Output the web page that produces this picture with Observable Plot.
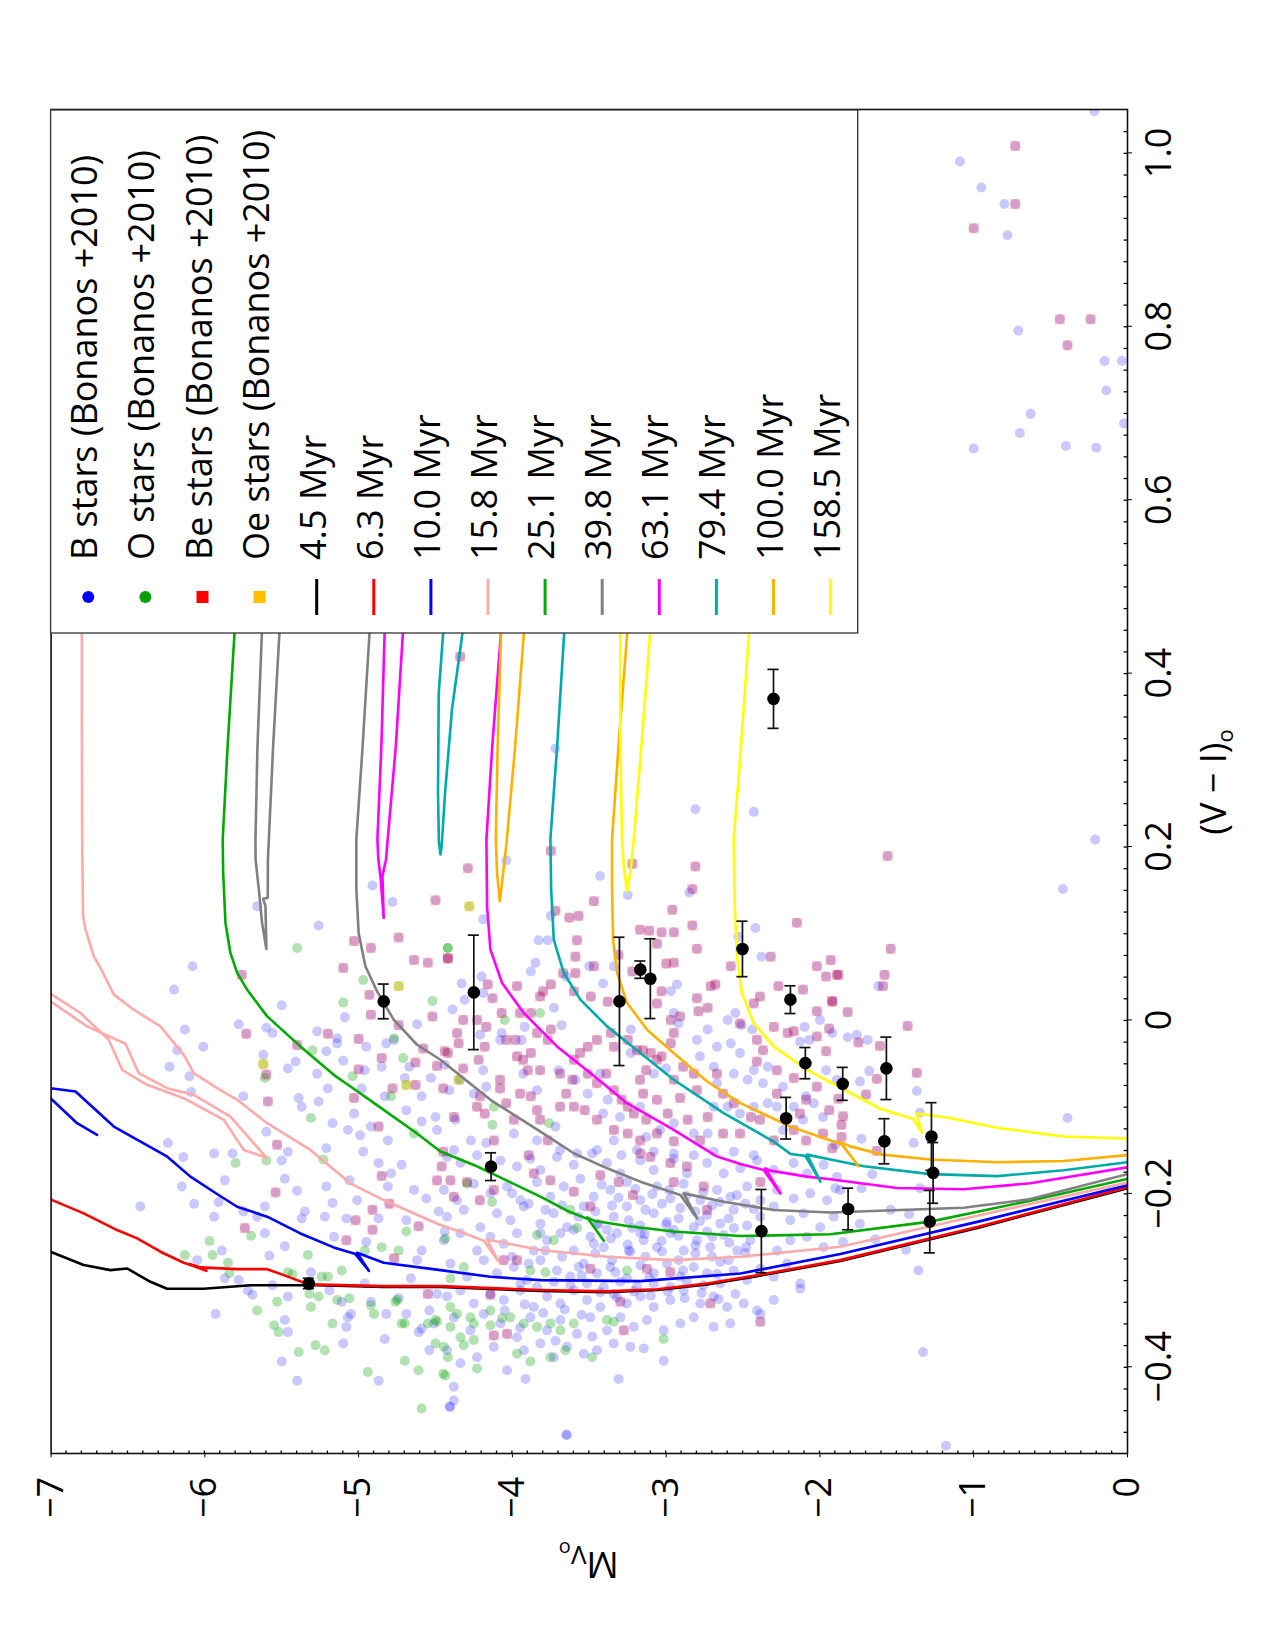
<!DOCTYPE html>
<html>
<head>
<meta charset="utf-8">
<script src="https://cdn.jsdelivr.net/npm/d3@7"></script>
<script src="https://cdn.jsdelivr.net/npm/@observablehq/plot@0.6"></script>
<style>
  html, body { margin: 0; padding: 0; background: #fff; }
  #page { position: relative; width: 1275px; height: 1650px; overflow: hidden; background: #fff; }
  #edge-top { position: absolute; left: 37px; top: 71px; width: 1201px; height: 0; border-top: 1px solid #e6e6e6; }
  #edge-left { position: absolute; left: 37px; top: 71px; width: 0; height: 1509px; border-left: 1px solid #e6e6e6; }
  /* the figure is laid out landscape and turned a quarter turn counter-clockwise */
  #rot { position: absolute; left: 0; top: 0; width: 1650px; height: 1275px;
         transform-origin: 0 0; transform: translate(0px, 1650px) rotate(-90deg); }
  #rot svg { display: block; }
</style>
</head>
<body>
<div id="page"><div id="edge-top"></div><div id="edge-left"></div><div id="rot"></div></div>
<script>
// Colour–magnitude diagram: every point is [Mv, (V−I)o]

// ---- tick values ----
const viTicks = [-0.4, -0.2, 0, 0.2, 0.4, 0.6, 0.8, 1.0];
const mvTicks = [-7, -6, -5, -4, -3, -2, -1, 0];

// ---- B stars (Bonanos+2010), excluding the Be subset ----
const bStars = [
[-4.91,0.155],[-4.78,0.136],[-5.66,0.131],[-5.26,0.109],[-6.08,0.062],[-6.20,0.035],[-5.50,0.017],[-5.09,0.003],[-4.62,-0.005],[-5.78,-0.005],[-5.60,-0.009],[-5.56,-0.015],[-5.27,-0.013],[-5.14,-0.027],[-6.13,-0.011],[-6.01,-0.031],[-6.18,-0.035],[-6.23,-0.054],[-6.10,-0.065],[-5.62,-0.040],[-5.41,-0.048],[-5.46,-0.056],[-5.27,-0.062],[-5.21,-0.036],[-5.10,-0.047],[-4.95,-0.031],[-4.82,-0.027],[-4.85,-0.054],[-4.67,-0.054],[-4.96,-0.058],[-6.09,-0.083],[-5.75,-0.088],[-5.39,-0.090],[-5.37,-0.100],[-5.26,-0.094],[-5.20,-0.079],[-4.98,-0.079],[-4.83,-0.088],[-4.69,-0.104],[-4.59,-0.088],[-4.53,-0.067],[-5.60,-0.129],[-5.17,-0.119],[-5.03,-0.108],[-5.07,-0.127],[-4.92,-0.123],[-4.81,-0.139],[-4.59,-0.117],[-4.50,-0.112],[-4.49,-0.127],[-4.99,-0.133],[-6.24,-0.142],[-6.14,-0.158],[-5.94,-0.154],[-5.82,-0.154],[-5.46,-0.152],[-5.21,-0.148],[-4.97,-0.152],[-4.77,-0.023],[-4.70,-0.067],[-5.14,-0.021],
[-5.50,-0.162],[-6.42,-0.215],[-6.15,-0.192],[-6.07,-0.212],[-5.94,-0.227],[-5.87,-0.185],[-5.91,-0.210],[-5.75,-0.221],[-5.66,-0.227],[-5.61,-0.215],[-5.58,-0.272],[-5.61,-0.246],[-5.48,-0.261],[-5.40,-0.197],[-5.37,-0.229],[-5.35,-0.221],[-5.48,-0.183],[-5.21,-0.192],[-5.17,-0.211],[-5.22,-0.227],[-5.16,-0.250],[-5.08,-0.229],[-5.01,-0.208],[-4.95,-0.256],[-4.87,-0.229],[-4.81,-0.192],[-4.72,-0.167],[-4.69,-0.231],[-4.64,-0.196],[-4.59,-0.266],[-4.56,-0.206],[-4.48,-0.221],[-4.44,-0.244],[-4.87,-0.165],[-4.79,-0.177],[-5.06,-0.185],[-5.89,-0.266],[-6.05,-0.277],[-5.87,-0.298],[-5.78,-0.300],[-5.72,-0.312],[-5.69,-0.317],[-5.93,-0.339],[-5.56,-0.306],[-5.46,-0.319],[-5.48,-0.346],[-5.46,-0.360],[-5.50,-0.394],[-5.40,-0.416],[-5.31,-0.291],[-5.19,-0.312],[-5.11,-0.325],[-5.07,-0.343],[-5.05,-0.339],[-5.10,-0.373],[-5.08,-0.354],[-4.96,-0.304],[-4.92,-0.325],[-4.87,-0.416],[-4.83,-0.368],[-4.82,-0.339],[-4.74,-0.321],[-4.69,-0.339],[-4.66,-0.298],[-4.62,-0.277],[-4.54,-0.335],[-4.49,-0.316],[-4.41,-0.446],[-4.54,-0.381],[-4.51,-0.350],[-4.59,-0.356],[-4.61,-0.360],[-3.65,-0.478],
[-3.43,0.166],[-4.04,0.184],[-4.19,0.116],[-3.83,0.092],[-3.77,0.092],[-3.75,0.120],[-2.85,0.147],[-3.25,0.144],[-2.42,0.106],[-2.53,0.096],[-2.38,0.073],[-3.34,0.062],[-3.50,0.062],[-3.41,0.042],[-3.65,0.050],[-3.85,0.066],[-3.88,0.056],[-4.20,0.050],[-4.19,0.031],[-4.31,0.023],[-4.33,0.042],[-4.39,0.012],[-3.73,0.014],[-3.68,-0.006],[-3.92,-0.008],[-4.07,-0.015],[-4.08,-0.023],[-4.21,-0.017],[-3.94,-0.023],[-4.19,-0.058],[-4.44,-0.052],[-4.34,-0.069],[-4.41,-0.081],[-4.17,-0.077],[-4.25,-0.085],[-4.37,-0.115],[-4.27,-0.139],[-4.38,-0.150],[-4.17,-0.142],[-3.99,-0.131],[-3.84,-0.139],[-3.72,-0.123],[-3.69,-0.150],[-3.93,-0.062],[-3.84,-0.081],[-3.70,-0.058],[-3.59,-0.069],[-3.51,-0.085],[-3.43,-0.062],[-3.38,-0.092],[-3.30,-0.112],[-3.17,-0.100],[-3.34,-0.139],[-3.41,-0.108],[-3.23,-0.011],[-3.23,-0.038],[-3.08,-0.062],[-3.00,-0.056],[-2.95,0.008],[-2.92,-0.004],[-2.97,0.033],[-2.93,0.041],[-2.80,-0.023],[-2.73,-0.011],[-2.78,-0.042],[-2.67,-0.031],[-2.60,0.000],[-2.55,0.008],[-2.51,-0.006],[-2.44,-0.011],[-2.58,-0.027],[-2.52,-0.038],[-2.43,-0.058],[-2.47,-0.069],[-2.56,-0.062],[-2.67,-0.073],[-2.69,-0.054],[-2.34,-0.054],[-2.37,-0.073],[-2.24,-0.077],[-2.28,-0.100],[-2.17,-0.100],[-2.09,-0.088],[-2.04,-0.096],[-1.98,-0.112],[-2.11,-0.115],[-2.24,-0.127],[-2.10,-0.008],[-2.07,-0.023],[-2.13,-0.025],[-2.00,0.000],[-1.92,-0.015],[-1.89,-0.069],[-1.96,-0.058],[-2.34,-0.096],[-2.43,-0.100],[-2.52,-0.108],[-2.60,-0.100],[-2.69,-0.100],[-2.73,-0.131],[-2.82,-0.131],[-2.95,-0.119],[-3.04,-0.127],[-3.13,-0.135],[-3.19,-0.150],[-2.43,-0.156],[-2.56,-0.152],[-2.69,-0.152],[-2.82,-0.156],[-2.95,-0.154],[-3.08,-0.152],[-3.29,-0.156],[-3.45,-0.150],[-3.58,-0.154],
[-4.425,-0.158],[-4.338,-0.165],[-4.230,-0.156],[-4.078,-0.162],[-3.970,-0.169],[-3.883,-0.160],[-3.818,-0.173],[-3.710,-0.158],[-3.601,-0.167],[-3.482,-0.154],[-3.385,-0.165],[-3.298,-0.177],[-3.168,-0.162],[-3.081,-0.173],[-2.951,-0.160],[-2.865,-0.177],[-2.734,-0.165],[-2.626,-0.177],[-2.518,-0.171],[-2.409,-0.162],[-2.301,-0.173],[-2.171,-0.165],[-2.084,-0.177],[-1.976,-0.167],[-1.889,-0.181],
[-4.446,-0.196],[-4.360,-0.208],[-4.251,-0.189],[-4.143,-0.200],[-4.035,-0.192],[-3.948,-0.208],[-3.840,-0.187],[-3.753,-0.204],[-3.666,-0.192],[-3.558,-0.183],[-3.471,-0.204],[-3.363,-0.196],[-3.255,-0.187],[-3.168,-0.208],[-3.060,-0.192],[-2.973,-0.206],[-2.886,-0.189],[-2.778,-0.208],[-2.669,-0.196],[-2.583,-0.204],[-2.474,-0.192],[-2.388,-0.208],[-2.279,-0.196],[-2.171,-0.206],[-2.063,-0.200],[-1.954,-0.208],[-1.868,-0.196],
[-4.425,-0.227],[-4.316,-0.219],[-4.208,-0.239],[-4.100,-0.223],[-4.013,-0.231],[-3.926,-0.215],[-3.818,-0.235],[-3.731,-0.223],[-3.645,-0.239],[-3.536,-0.215],[-3.450,-0.235],[-3.341,-0.227],[-3.255,-0.215],[-3.168,-0.237],[-3.081,-0.223],[-2.995,-0.233],[-2.908,-0.217],[-2.821,-0.239],[-2.734,-0.225],[-2.648,-0.235],[-2.561,-0.219],[-2.474,-0.237],[-2.388,-0.227],[-2.301,-0.215],[-2.193,-0.231],[-2.106,-0.223],[-1.998,-0.239],[-1.911,-0.227],
[-4.446,-0.254],[-4.338,-0.246],[-4.230,-0.266],[-4.143,-0.250],[-4.056,-0.258],[-3.970,-0.246],[-3.861,-0.266],[-3.775,-0.254],[-3.688,-0.246],[-3.601,-0.266],[-3.493,-0.250],[-3.406,-0.262],[-3.320,-0.246],[-3.233,-0.267],[-3.146,-0.254],[-3.060,-0.262],[-2.973,-0.246],[-2.886,-0.266],[-2.800,-0.254],[-2.713,-0.262],[-2.626,-0.248],[-2.539,-0.266],[-2.453,-0.254],[-2.366,-0.246],[-2.279,-0.266],[-2.193,-0.254],[-2.084,-0.250],[-1.976,-0.262],
[-4.403,-0.281],[-4.295,-0.296],[-4.186,-0.277],[-4.100,-0.292],[-3.991,-0.285],[-3.905,-0.300],[-3.818,-0.277],[-3.710,-0.289],[-3.623,-0.296],[-3.536,-0.281],[-3.450,-0.292],[-3.363,-0.285],[-3.255,-0.298],[-3.168,-0.283],[-3.081,-0.292],[-2.995,-0.281],[-2.908,-0.296],[-2.821,-0.285],[-2.734,-0.292],[-2.648,-0.279],[-2.561,-0.289],[-2.474,-0.300],[-2.388,-0.287],[-2.301,-0.296],[-2.214,-0.281],[-2.128,-0.304],
[-4.425,-0.319],[-4.338,-0.312],[-4.251,-0.327],[-4.143,-0.316],[-4.056,-0.323],[-3.948,-0.312],[-3.861,-0.331],[-3.775,-0.319],[-3.688,-0.327],[-3.601,-0.312],[-3.515,-0.323],[-3.428,-0.331],[-3.341,-0.316],[-3.255,-0.327],[-3.168,-0.319],[-3.081,-0.331],[-2.973,-0.323],[-2.886,-0.312],[-2.778,-0.327],[-2.691,-0.319],[-2.604,-0.331],[-2.496,-0.327],[-2.409,-0.335],[-2.301,-0.323],[-2.128,-0.310],
[-4.381,-0.343],[-4.273,-0.358],[-4.186,-0.339],[-4.078,-0.350],[-3.970,-0.366],[-3.883,-0.343],[-3.775,-0.358],[-3.688,-0.346],[-3.580,-0.362],[-3.493,-0.343],[-3.385,-0.358],[-3.298,-0.343],[-3.211,-0.354],[-3.125,-0.346],[-3.016,-0.358],[-2.908,-0.350],[-2.821,-0.343],[-2.691,-0.354],[-2.583,-0.350],[-2.388,-0.339],
[-4.425,-0.381],[-4.338,-0.396],[-4.230,-0.389],[-4.121,-0.377],[-4.035,-0.404],[-3.926,-0.381],[-3.818,-0.373],[-3.731,-0.389],[-3.645,-0.377],[-3.536,-0.385],[-3.450,-0.381],[-3.341,-0.373],[-3.233,-0.377],[-3.146,-0.379],[-3.016,-0.393],[-4.381,-0.423],[-3.915,-0.414],[-3.309,-0.414],[-4.381,-0.439],[-4.403,-0.446],[-3.645,-0.479],
[-4.002,-0.200],[-3.894,-0.212],[-3.785,-0.219],[-3.677,-0.214],[-3.569,-0.227],[-3.460,-0.221],[-3.352,-0.214],[-3.244,-0.231],[-3.135,-0.219],[-3.027,-0.212],[-2.919,-0.229],[-2.810,-0.221],[-2.702,-0.214],[-2.594,-0.229],[-2.485,-0.212],[-4.002,-0.273],[-3.894,-0.281],[-3.785,-0.266],[-3.677,-0.273],[-3.569,-0.285],[-3.460,-0.269],[-3.352,-0.277],[-3.244,-0.266],[-3.135,-0.273],[-3.027,-0.267],[-2.919,-0.277],[-2.810,-0.269],[-2.702,-0.273],[-2.594,-0.277],[-2.485,-0.269],[-3.948,-0.304],[-3.840,-0.308],[-3.731,-0.302],[-3.623,-0.306],[-3.515,-0.304],[-3.406,-0.308],[-3.298,-0.302],[-3.190,-0.308],[-3.081,-0.304],[-2.973,-0.308],[-2.865,-0.302],[-2.756,-0.306],[-2.648,-0.304],[-3.818,-0.246],[-3.601,-0.242],[-3.385,-0.242],[-3.168,-0.246],[-2.951,-0.242],[-2.734,-0.244],
[-3.42,-0.190],[-3.31,-0.205],[-3.20,-0.195],[-3.09,-0.201],[-2.98,-0.196],[-2.87,-0.203],[-2.76,-0.199],[-2.65,-0.210],[-2.54,-0.202],[-2.43,-0.218],
[-3.47,-0.258],[-3.36,-0.252],[-3.25,-0.259],[-3.14,-0.247],[-3.03,-0.255],[-2.92,-0.249],[-2.81,-0.260],[-2.70,-0.250],[-2.59,-0.257],[-2.48,-0.262],
[-3.43,-0.314],[-3.32,-0.320],[-3.21,-0.313],[-3.10,-0.318],[-2.99,-0.313],[-2.88,-0.321],[-2.77,-0.315],[-2.66,-0.322],[-2.55,-0.316],
[-3.44,-0.236],[-3.22,-0.240],[-3.00,-0.236],[-2.78,-0.232],[-2.56,-0.240],[-3.55,-0.295],[-3.33,-0.291],[-3.11,-0.297],[-2.89,-0.289],[-2.67,-0.293],
[-4.05,-0.335],[-3.92,-0.328],[-3.80,-0.338],[-3.66,-0.334],[-3.55,-0.340],[-3.95,-0.355],[-3.72,-0.370],[-3.48,-0.365],
[-0.21,0.208],[-0.42,0.151],[-1.62,0.039],[-1.82,-0.020],[-1.69,-0.023],[-1.76,-0.017],[-1.74,-0.071],[-1.68,-0.059],[-1.37,-0.082],[-1.35,-0.107],[-0.39,-0.113],[-1.39,-0.142],[-1.73,-0.137],[-1.90,-0.144],[-1.66,-0.178],[-1.90,-0.194],[-1.73,-0.194],[-1.54,-0.219],[-1.74,-0.235],[-1.85,-0.256],[-1.44,-0.265],[-1.64,-0.253],[-1.36,-0.289],[-1.33,-0.383],[-1.18,-0.491],[-1.42,-0.224],[-1.35,-0.194],
[-2.81,0.243],[-2.43,0.240],[-3.72,0.313],[-0.215,1.048],[-0.149,0.760],[-0.036,0.760],[-0.138,0.726],[-0.022,0.688],[-0.203,0.660],[-1.09,0.990],[-0.95,0.960],[-0.80,0.941],[-0.78,0.905],[-1.00,0.659],[-0.70,0.677],[-0.63,0.699],[-0.40,0.662],[-0.71,0.795]
];

// ---- Be stars (Bonanos+2010) ----
const beStars = [
[-4.50,0.138],[-4.74,0.095],[-5.03,0.091],[-4.92,0.083],[-5.10,0.060],[-4.64,0.069],[-4.55,0.066],[-4.42,0.071],[-5.76,0.052],[-4.93,0.029],[-4.92,0.006],[-4.52,0.004],[-4.74,-0.006],[-5.73,-0.016],[-5.20,-0.016],[-5.00,-0.022],[-5.40,-0.029],[-4.44,-0.036],[-4.58,-0.033],[-4.85,-0.044],[-4.63,-0.049],[-4.49,-0.053],[-5.00,-0.057],[-5.60,-0.063],[-4.78,-0.079],[-4.63,-0.075],[-5.59,-0.094],[-5.03,-0.090],[-4.87,-0.123],[-5.53,-0.144],[-4.45,-0.152],
[-5.54,-0.199],[-5.74,-0.240],[-5.08,-0.254],[-5.02,-0.231],[-4.91,-0.219],[-4.91,-0.242],[-4.85,-0.180],[-4.80,-0.212],[-4.61,-0.238],[-4.49,-0.185],[-4.46,-0.169],[-4.77,-0.275],[-4.55,-0.316],
[-3.75,0.195],[-4.29,0.175],[-3.22,0.180],[-2.81,0.177],[-2.83,0.151],[-3.47,0.137],[-3.72,0.126],[-3.63,0.118],[-3.57,0.120],[-2.96,0.127],[-2.83,0.109],[-3.11,0.103],[-3.03,0.101],[-2.95,0.101],[-3.58,0.092],[-3.06,0.088],[-2.80,0.082],[-3.59,0.073],[-2.32,0.073],[-4.42,0.071],[-3.67,0.054],[-3.59,0.054],[-3.47,0.062],[-3.00,0.065],[-2.95,0.066],[-3.60,0.033],[-3.80,0.033],[-3.75,0.041],[-3.97,0.039],[-4.13,0.025],[-3.95,0.008],[-3.88,0.008],[-3.82,0.027],[-4.16,0.041],[-3.49,0.027],[-3.38,0.021],[-3.22,0.056],[-3.06,0.019],[-3.03,0.033],[-2.71,0.039],[-2.68,0.041],[-2.80,0.025],[-2.73,0.014],[-2.97,0.000],[-2.91,0.004],[-2.79,0.010],[-2.43,0.019],[-2.39,0.027],[-2.27,0.039],[-2.11,0.035],[-2.02,0.062],[-1.96,0.050],[-1.89,0.052],[-1.92,0.021],[-2.02,0.010],[-1.94,-0.010],[-1.96,-0.036],[-2.17,-0.013],[-2.30,-0.008],[-2.21,-0.015],[-2.41,-0.023],[-2.52,-0.004],[-2.37,-0.035],[-2.28,-0.058],[-2.17,-0.067],[-2.28,-0.085],[-2.41,-0.048],[-2.09,-0.092],[-2.02,-0.077],[-1.94,-0.104],[-2.13,-0.108],[-2.39,-0.115],[-2.30,-0.139],[-2.52,-0.131],[-2.45,-0.112],[-2.56,-0.096],[-2.63,-0.085],[-2.67,-0.062],[-2.80,-0.081],[-2.82,-0.062],[-2.89,-0.054],[-2.95,-0.069],[-2.91,-0.090],[-3.06,-0.092],[-2.99,-0.108],[-2.86,-0.115],[-2.73,-0.112],[-3.13,-0.115],[-3.21,-0.108],[-3.25,-0.100],[-3.29,-0.092],[-3.15,-0.085],[-3.17,-0.069],[-3.13,-0.058],[-3.19,-0.035],[-3.15,-0.035],[-3.10,-0.038],[-3.06,-0.046],[-3.03,-0.042],[-2.97,-0.027],[-2.95,-0.015],[-3.25,-0.023],[-3.34,-0.031],[-3.36,-0.015],[-3.45,-0.023],[-3.51,-0.031],[-3.56,-0.038],[-3.60,-0.046],[-3.69,-0.062],[-3.61,-0.069],[-3.51,-0.062],[-3.45,-0.073],[-3.39,-0.062],[-3.34,-0.081],[-3.82,-0.058],[-3.90,-0.058],[-3.93,-0.046],[-3.97,-0.042],[-3.88,-0.038],[-3.77,-0.023],[-3.75,-0.011],[-3.84,-0.015],[-3.98,-0.023],[-4.08,-0.069],[-4.08,-0.079],[-4.21,-0.088],[-4.23,-0.100],[-4.18,-0.108],[-4.04,-0.096],[-3.95,-0.085],[-3.88,-0.088],[-3.84,-0.104],[-3.99,-0.115],[-3.82,-0.115],[-3.69,-0.100],[-3.65,-0.085],[-3.60,-0.100],[-3.53,-0.104],[-3.45,-0.115],[-3.34,-0.127],[-3.25,-0.131],[-3.17,-0.139],[-3.06,-0.131],[-2.95,-0.140],[-2.78,-0.139],[-2.63,-0.131],[-3.77,-0.139],[-4.12,-0.139],[-4.38,-0.112],[-4.35,-0.027],[-4.32,0.000],[-4.36,-0.015],[-4.42,-0.038],[-4.45,-0.079],[-4.32,-0.056],[-4.22,-0.046],[-4.18,-0.031],[-4.17,-0.008],[-4.23,0.000],[-4.07,0.008],[-4.04,-0.023],[-3.17,0.104],[-3.31,0.075],[-2.58,0.062],[-2.15,0.112],[-2.02,-0.019],[-1.92,-0.148],[-2.09,-0.139],[-2.17,-0.127],[-1.98,-0.131],[-1.93,0.069],
[-3.894,-0.156],[-4.403,-0.185],[-4.295,-0.187],[-4.381,-0.204],[-4.212,-0.208],[-4.121,-0.196],[-3.861,-0.177],[-3.753,-0.185],[-3.601,-0.198],[-3.428,-0.179],[-3.309,-0.187],[-3.216,-0.202],[-3.168,-0.154],[-3.103,-0.158],[-2.973,-0.165],[-2.865,-0.169],[-2.951,-0.187],[-2.756,-0.192],[-2.734,-0.219],[-3.493,-0.215],[-3.970,-0.277],[-4.056,-0.277],[-3.493,-0.287],[-3.125,-0.287],[-2.973,-0.291],[-4.143,-0.317],[-3.298,-0.325],[-2.713,-0.327],[-2.388,-0.348],[-4.121,-0.364],[-4.035,-0.362],[-3.276,-0.358],[-2.388,-0.187],
[-1.56,0.189],[-1.54,0.082],[-1.88,0.052],[-1.58,0.052],[-1.59,0.039],[-1.92,0.022],[-1.82,0.009],[-1.43,-0.007],[-1.75,-0.026],[-1.61,-0.030],[-1.63,-0.068],[-1.70,-0.086],[-1.88,-0.091],[-1.37,-0.061],[-1.85,-0.111],[-1.86,-0.121],[-1.86,-0.135],[-1.63,-0.151],
[-0.73,1.008],[-1.00,0.913],[-0.73,0.941],[-0.24,0.808],[-0.44,0.808],[-0.39,0.778],[-4.34,0.419]
];

// ---- O stars (Bonanos+2010), excluding the Oe subset ----
const oStars = [
[-5.40,0.083],[-4.97,0.046],[-5.10,0.020],[-4.52,0.022],[-4.77,-0.021],[-4.42,0.083],[-5.30,-0.035],[-4.71,-0.044],[-5.04,-0.065],[-5.61,-0.067],[-4.79,-0.088],[-5.31,-0.113],[-4.64,-0.131],
[-5.80,-0.165],[-5.60,-0.162],[-5.23,-0.161],[-5.97,-0.255],[-6.13,-0.271],[-5.95,-0.271],[-5.85,-0.280],[-5.84,-0.292],[-5.70,-0.249],[-5.46,-0.291],[-5.43,-0.293],[-5.33,-0.271],[-5.32,-0.316],[-5.31,-0.331],[-5.26,-0.319],[-5.24,-0.296],[-5.20,-0.296],[-5.14,-0.323],[-5.11,-0.289],[-5.06,-0.321],[-5.66,-0.335],[-5.53,-0.325],[-5.55,-0.352],[-5.52,-0.360],[-5.39,-0.383],[-5.28,-0.375],[-5.22,-0.381],[-5.17,-0.350],[-4.94,-0.406],[-4.92,-0.329],[-4.90,-0.339],[-4.70,-0.393],[-4.61,-0.404],[-4.59,-0.448],[-4.50,-0.373],[-4.49,-0.348],[-4.45,-0.408],[-4.42,-0.389],[-4.75,-0.323],[-4.72,-0.350],[-4.70,-0.350],[-4.96,-0.266],[-4.85,-0.262],[-4.74,-0.266],[-4.69,-0.244],[-4.76,-0.325],[-4.55,-0.350],[-4.50,-0.346],
[-4.42,0.083],[-3.82,0.008],[-4.05,0.000],[-4.13,-0.121],[-3.76,-0.119],[-4.12,-0.100],
[-4.436,-0.252],[-4.295,-0.189],[-4.132,-0.210],[-3.623,-0.219],[-3.580,-0.240],[-3.840,-0.248],[-3.731,-0.254],[-4.316,-0.285],[-4.403,-0.298],[-3.883,-0.289],[-3.785,-0.291],[-3.255,-0.289],[-4.403,-0.331],[-4.360,-0.339],[-4.273,-0.343],[-4.251,-0.350],[-4.143,-0.335],[-4.067,-0.344],[-4.013,-0.343],[-4.143,-0.352],[-3.926,-0.350],[-3.840,-0.354],[-3.753,-0.350],[-3.688,-0.358],[-3.601,-0.350],[-4.403,-0.354],[-4.338,-0.366],[-4.316,-0.375],[-4.251,-0.369],[-3.970,-0.385],[-3.883,-0.394],[-3.753,-0.389],[-3.656,-0.381],[-3.482,-0.389],[-3.385,-0.346],[-3.341,-0.348],[-3.016,-0.368],[-4.436,-0.410],[-4.230,-0.402],[-4.446,-0.377]
];

// ---- Oe stars (Bonanos+2010) ----
const oeStars = [[-4.74,0.039],[-5.62,-0.051],[-4.69,-0.075],[-4.28,0.131],[-4.35,-0.069]];

// ---- cluster members with photometric errors: [Mv, (V−I)o, σ(V−I)] ----
const members = [
[-4.837,0.0214,0.020],[-4.251,0.0318,0.066],[-3.304,0.0214,0.074],[-3.168,0.0580,0.010],[-3.103,0.0476,0.046],
[-2.504,0.0819,0.032],[-2.192,0.0234,0.016],[-2.095,-0.0498,0.018],[-2.220,-0.1133,0.024],[-1.852,-0.0737,0.019],
[-4.139,-0.1692,0.016],[-2.381,-0.2435,0.048],[-1.568,-0.0558,0.036],[-1.581,-0.1399,0.026],[-1.275,-0.1344,0.039],
[-1.264,-0.1764,0.035],[-1.286,-0.2326,0.036],[-1.817,-0.2180,0.024],[-5.324,-0.3039,0.006],[-2.302,0.3703,0.034]
];

// ---- isochrones ----
const iso4p5 = [[0.00,-0.194],[-0.957,-0.239],[-1.867,-0.278],[-2.409,-0.2955],[-2.734,-0.305],[-3.059,-0.3115],[-3.384,-0.314],[-3.818,-0.3125],[-4.468,-0.308],[-4.837,-0.308],[-5.270,-0.306],[-5.704,-0.306],[-6.007,-0.310],[-6.246,-0.310],[-6.354,-0.302],[-6.506,-0.2866],[-6.614,-0.2885],[-6.788,-0.2827],[-7.004,-0.2673],[-7.10,-0.262]];
const iso6p3 = [[0.00,-0.193],[-0.957,-0.238],[-1.867,-0.277],[-2.409,-0.2945],[-2.734,-0.304],[-3.059,-0.3105],[-3.384,-0.313],[-3.818,-0.3115],[-4.468,-0.307],[-4.837,-0.307],[-5.324,-0.305],[-5.487,-0.2943],[-5.595,-0.2874],[-5.790,-0.2874],[-6.029,-0.2854],[-6.094,-0.2816],[-5.990,-0.2893],[-6.083,-0.2831],[-6.137,-0.2800],[-6.289,-0.2673],[-6.440,-0.2519],[-6.571,-0.2423],[-6.788,-0.2231],[-7.004,-0.2069],[-7.10,-0.202]];
const iso10p0 = [[0.00,-0.1906],[-0.957,-0.232],[-1.867,-0.270],[-2.517,-0.2924],[-3.168,-0.3012],[-3.818,-0.3001],[-4.143,-0.2962],[-4.468,-0.2885],[-4.837,-0.2800],[-5.010,-0.2685],[-4.934,-0.2893],[-5.021,-0.2700],[-5.162,-0.2623],[-5.379,-0.2462],[-5.595,-0.2269],[-5.790,-0.2154],[-5.921,-0.2007],[-6.094,-0.1807],[-6.25,-0.157],[-6.592,-0.1229],[-6.841,-0.0825],[-7.004,-0.0787],[-7.09,-0.080],[-7.047,-0.088],[-7.004,-0.0902],[-6.831,-0.1191],[-6.701,-0.1326]];
const iso15p8 = [[0.00,-0.1874],[-0.957,-0.225],[-1.867,-0.2616],[-2.517,-0.2731],[-2.951,-0.2770],[-3.384,-0.2731],[-3.818,-0.2654],[-3.926,-0.2616],[-4.165,-0.2531],[-4.089,-0.2789],[-4.186,-0.2546],[-4.338,-0.2442],[-4.468,-0.2365],[-4.62,-0.2246],[-4.837,-0.2077],[-5.054,-0.1884],[-5.314,-0.1499],[-5.595,-0.1191],[-5.790,-0.0921],[-5.920,-0.0787],[-6.072,-0.0613],[-6.137,-0.0402],[-6.289,-0.0074],[-6.462,0.0118],[-6.592,0.0292],[-6.679,0.0599],[-6.722,0.0734],[-6.776,0.1042],[-6.792,0.1196],[-6.798,0.2082],[-6.80,0.35],[-6.80,0.62]];
const iso15p8Loop = [[-7.10,0.036],[-7.004,0.0303],[-6.809,0.0080],[-6.625,-0.0228],[-6.538,-0.0575],[-6.376,-0.0748],[-6.137,-0.0902],[-5.877,-0.1152],[-5.747,-0.150],[-5.600,-0.1588],[-5.834,-0.1114],[-6.072,-0.0864],[-6.245,-0.0787],[-6.430,-0.0613],[-6.516,-0.0275],[-6.766,-0.0074],[-7.004,0.0215],[-7.10,0.027]];
const iso25p1 = [[0.00,-0.1833],[-0.632,-0.2084],[-1.282,-0.2326],[-1.932,-0.2472],[-2.517,-0.2492],[-2.951,-0.2439],[-3.254,-0.2377],[-3.471,-0.2315],[-3.514,-0.2277],[-3.406,-0.2546],[-3.504,-0.2300],[-3.645,-0.2200],[-3.818,-0.2038],[-4.035,-0.1853],[-4.251,-0.1672],[-4.468,-0.1518],[-4.62,-0.131],[-4.837,-0.1037],[-5.053,-0.0767],[-5.162,-0.0633],[-5.379,-0.0305],[-5.595,0.0041],[-5.725,0.0349],[-5.790,0.0542],[-5.834,0.0773],[-5.866,0.1119],[-5.881,0.1697],[-5.884,0.2082],[-5.852,0.3160],[-5.807,0.4469],[-5.78,0.62]];
const iso39p8 = [[0.00,-0.1778],[-0.632,-0.2066],[-1.065,-0.2166],[-1.932,-0.2221],[-2.301,-0.2192],[-2.626,-0.2096],[-2.886,-0.2000],[-2.799,-0.2288],[-2.908,-0.2019],[-3.168,-0.1865],[-3.384,-0.1711],[-3.601,-0.1537],[-3.818,-0.1287],[-4.143,-0.0921],[-4.468,-0.0459],[-4.620,-0.0286],[-4.772,0.0003],[-4.880,0.0330],[-4.956,0.0619],[-5.000,0.1004],[-5.015,0.1504],[-5.015,0.2082],[-4.974,0.316],[-4.929,0.447],[-4.91,0.62]];
const iso39p8Loop = [[-5.49,0.62],[-5.515,0.447],[-5.556,0.316],[-5.584,0.2082],[-5.590,0.185],[-5.591,0.1408],[-5.621,0.1397],[-5.606,0.1312],[-5.600,0.0819],[-5.628,0.1119],[-5.649,0.1504],[-5.670,0.185],[-5.671,0.2082],[-5.658,0.316],[-5.629,0.447],[-5.60,0.62]];
const iso63p1 = [[0.00,-0.1700],[-0.632,-0.1883],[-1.065,-0.1952],[-1.499,-0.1938],[-1.932,-0.1838],[-2.084,-0.1807],[-2.322,-0.1738],[-2.355,-0.1711],[-2.257,-0.2000],[-2.366,-0.1730],[-2.517,-0.1661],[-2.669,-0.1576],[-2.951,-0.1268],[-3.254,-0.0960],[-3.493,-0.0613],[-3.710,-0.0305],[-3.926,0.0080],[-4.067,0.0426],[-4.143,0.0811],[-4.165,0.1312],[-4.169,0.2082],[-4.131,0.316],[-4.074,0.447],[-4.03,0.62]];
const iso63p1Loop = [[-4.69,0.62],[-4.712,0.447],[-4.758,0.316],[-4.811,0.2082],[-4.822,0.185],[-4.845,0.166],[-4.837,0.1177],[-4.858,0.1658],[-4.872,0.185],[-4.878,0.2082],[-4.852,0.316],[-4.831,0.447],[-4.81,0.62]];
const iso79p4 = [[0.00,-0.1641],[-0.415,-0.1733],[-0.848,-0.1801],[-1.282,-0.1778],[-1.715,-0.1687],[-1.932,-0.1609],[-2.084,-0.1553],[-1.997,-0.1865],[-2.095,-0.1568],[-2.192,-0.1545],[-2.301,-0.1403],[-2.626,-0.1075],[-2.951,-0.0690],[-3.168,-0.0382],[-3.384,-0.0074],[-3.558,0.0234],[-3.666,0.0542],[-3.731,0.0927],[-3.748,0.1504],[-3.753,0.2082],[-3.709,0.316],[-3.663,0.447],[-3.62,0.62]];
const iso79p4Loop = [[-4.28,0.62],[-4.324,0.447],[-4.393,0.3583],[-4.438,0.262],[-4.460,0.200],[-4.468,0.1908],[-4.478,0.205],[-4.484,0.262],[-4.479,0.3776],[-4.450,0.447],[-4.43,0.62]];
const iso100p0 = [[0.00,-0.1559],[-0.415,-0.1627],[-0.848,-0.1641],[-1.282,-0.1609],[-1.607,-0.1550],[-1.802,-0.1458],[-1.871,-0.1408],[-1.748,-0.1687],[-1.856,-0.1436],[-2.192,-0.1230],[-2.517,-0.0960],[-2.734,-0.0710],[-2.951,-0.0382],[-3.124,-0.0113],[-3.254,0.0195],[-3.319,0.0542],[-3.345,0.0927],[-3.352,0.1504],[-3.352,0.2082],[-3.310,0.316],[-3.253,0.447],[-3.20,0.62]];
const iso100p0Loop = [[-4.05,0.62],[-4.074,0.447],[-4.096,0.316],[-4.108,0.2082],[-4.100,0.1697],[-4.082,0.137],[-4.060,0.1697],[-4.036,0.2082],[-3.982,0.316],[-3.925,0.447],[-3.87,0.62]];
const iso158p5 = [[0.00,-0.1367],[-0.415,-0.1344],[-0.848,-0.1244],[-1.173,-0.1125],[-1.373,-0.1079],[-1.336,-0.1299],[-1.395,-0.1139],[-1.607,-0.1024],[-1.900,-0.0750],[-2.084,-0.0575],[-2.301,-0.0305],[-2.431,-0.0036],[-2.507,0.0311],[-2.539,0.0734],[-2.554,0.1312],[-2.561,0.2082],[-2.52,0.30],[-2.46,0.45],[-2.42,0.62]];
const iso158p5Loop = [[-3.30,0.62],[-3.298,0.447],[-3.298,0.316],[-3.287,0.2082],[-3.276,0.1774],[-3.254,0.1485],[-3.228,0.1774],[-3.211,0.2082],[-3.161,0.316],[-3.104,0.447],[-3.05,0.62]];

const isoAges   = ["4.5 Myr","6.3 Myr","10.0 Myr","15.8 Myr","25.1 Myr","39.8 Myr","63.1 Myr","79.4 Myr","100.0 Myr","158.5 Myr"];
const isoColors = ["#000000","#ff0000","#0000ff","#ffaaaa","#00aa00","#808080","#ff00ff","#00aaaa","#ffb000","#ffff00"];
const isoTracks = [[iso4p5],[iso6p3],[iso10p0],[iso15p8, iso15p8Loop],[iso25p1],[iso39p8, iso39p8Loop],[iso63p1, iso63p1Loop],[iso79p4, iso79p4Loop],[iso100p0, iso100p0Loop],[iso158p5, iso158p5Loop]];

const starLabels = ["B stars (Bonanos +2010)","O stars (Bonanos +2010)","Be stars (Bonanos +2010)","Oe stars (Bonanos +2010)"];
const starColors = ["#0000ff","#00a000","#ff0000","#ffc000"];

// ---- drawing ----
const font = "'Open Sans', 'Noto Sans', sans-serif";
const X = d => d[1], Y = d => d[0];
const fmtVI = d => Math.abs(d) < 1e-9 ? "0" : d3.format(".1f")(d);
const fmtMV = d => d3.format("d")(d);
const capHalf = 0.036; // half-length of error-bar caps, in magnitudes

const lineMarks = [];
isoTracks.forEach((tracks, i) => tracks.forEach(t =>
  lineMarks.push(Plot.line(t, {x: X, y: Y, stroke: isoColors[i], strokeWidth: 2.6, clip: true}))));

const caps = members.flatMap(d => [[d[0], d[1] - d[2]], [d[0], d[1] + d[2]]]);

const chart = Plot.plot({
  width: 1650, height: 1275,
  marginLeft: 196, marginRight: 110, marginTop: 50.6, marginBottom: 148,
  x: {domain: [-0.5, 1.05], ticks: viTicks, tickFormat: fmtVI, tickSize: 5, tickPadding: 13, label: null},
  y: {domain: [0, -7], ticks: mvTicks, tickFormat: fmtMV, tickSize: 3.3, tickPadding: 20, label: null},
  style: {fontFamily: font, fontSize: "36px", color: "#000", background: "#fff", overflow: "visible"},
  marks: [
    Plot.dot(bStars.concat(beStars), {x: X, y: Y, r: 5, fill: starColors[0], fillOpacity: 0.21, stroke: null, clip: true}),
    Plot.dot(oStars.concat(oeStars), {x: X, y: Y, r: 5, fill: starColors[1], fillOpacity: 0.3, stroke: null, clip: true}),
    Plot.dot(beStars, {x: X, y: Y, r: 5.6, symbol: "square", fill: starColors[2], fillOpacity: 0.22, stroke: null, clip: true}),
    Plot.dot(oeStars, {x: X, y: Y, r: 5.6, symbol: "square", fill: starColors[3], fillOpacity: 0.4, stroke: null, clip: true}),
    ...lineMarks,
    Plot.ruleY(members, {y: Y, x1: d => d[1] - d[2], x2: d => d[1] + d[2], stroke: "#111", strokeWidth: 1.7}),
    Plot.ruleX(caps, {x: X, y1: d => d[0] - capHalf, y2: d => d[0] + capHalf, stroke: "#111", strokeWidth: 1.7}),
    Plot.dot(members, {x: X, y: Y, r: 6.3, fill: "#000", stroke: null}),
    Plot.frame({stroke: "#111", strokeWidth: 1.6})
  ]
});

document.getElementById("rot").appendChild(chart);

// inner tick marks (minor and major) using the plot's scales
const svg = d3.select(chart);
const sx = chart.scale("x"), sy = chart.scale("y");
const xLeft = sx.apply(-0.5), xRight = sx.apply(1.05), yBottom = sy.apply(0), yTop = sy.apply(-7);
const tg = svg.append("g").attr("stroke", "#000").attr("stroke-width", 1.3);
for (let i = -19; i <= 41; i++) {
  const px = sx.apply(i * 0.025);
  tg.append("line").attr("x1", px).attr("x2", px).attr("y1", yBottom).attr("y2", yBottom - 3.4);
}
for (let i = -69; i <= -1; i++) {
  const py = sy.apply(i / 10);
  tg.append("line").attr("x1", xLeft).attr("x2", xLeft + 3.4).attr("y1", py).attr("y2", py);
}

// axis titles
const xt = svg.append("text").attr("x", (xLeft + xRight) / 2).attr("y", 1226)
  .attr("text-anchor", "middle").attr("font-family", font).attr("font-size", 36).attr("fill", "#000");
xt.append("tspan").text("(V − I)");
xt.append("tspan").attr("font-size", 22).attr("dy", 7).text("o");

const yt = svg.append("text").attr("transform", `translate(98,${(yTop + yBottom) / 2}) rotate(-90)`)
  .attr("text-anchor", "middle").attr("font-family", font).attr("font-size", 36).attr("fill", "#000");
yt.append("tspan").text("M");
yt.append("tspan").attr("font-size", 26).attr("dy", 6).text("V");
yt.append("tspan").attr("font-size", 20).attr("dy", 4).text("o");

// legend in the upper-right corner of the axes
const lg = svg.append("g").attr("font-family", font).attr("font-size", 36).attr("text-anchor", "start");
const lgLeft = 1017, lgBottom = 857.7;
lg.append("rect").attr("x", lgLeft).attr("y", yTop).attr("width", xRight - lgLeft).attr("height", lgBottom - yTop)
  .attr("fill", "#fff").attr("stroke", "#333").attr("stroke-width", 1.3);
const rowY = i => 88.3 + 57.1 * i;
const hx = 1053, tx = 1090;
starLabels.forEach((lab, i) => {
  const yy = rowY(i);
  if (i < 2) lg.append("circle").attr("cx", hx).attr("cy", yy).attr("r", 6).attr("fill", starColors[i]);
  else lg.append("rect").attr("x", hx - 6).attr("y", yy - 6).attr("width", 12).attr("height", 12).attr("fill", starColors[i]);
  lg.append("text").attr("x", tx).attr("y", yy + 9).attr("fill", "#000").attr("text-anchor", "start").text(lab);
});
isoAges.forEach((lab, k) => {
  const yy = rowY(k + 4);
  lg.append("line").attr("x1", hx - 18).attr("x2", hx + 18).attr("y1", yy).attr("y2", yy)
    .attr("stroke", isoColors[k]).attr("stroke-width", 3);
  lg.append("text").attr("x", tx).attr("y", yy + 9).attr("fill", "#000").attr("text-anchor", "start").text(lab);
});
</script>
</body>
</html>
